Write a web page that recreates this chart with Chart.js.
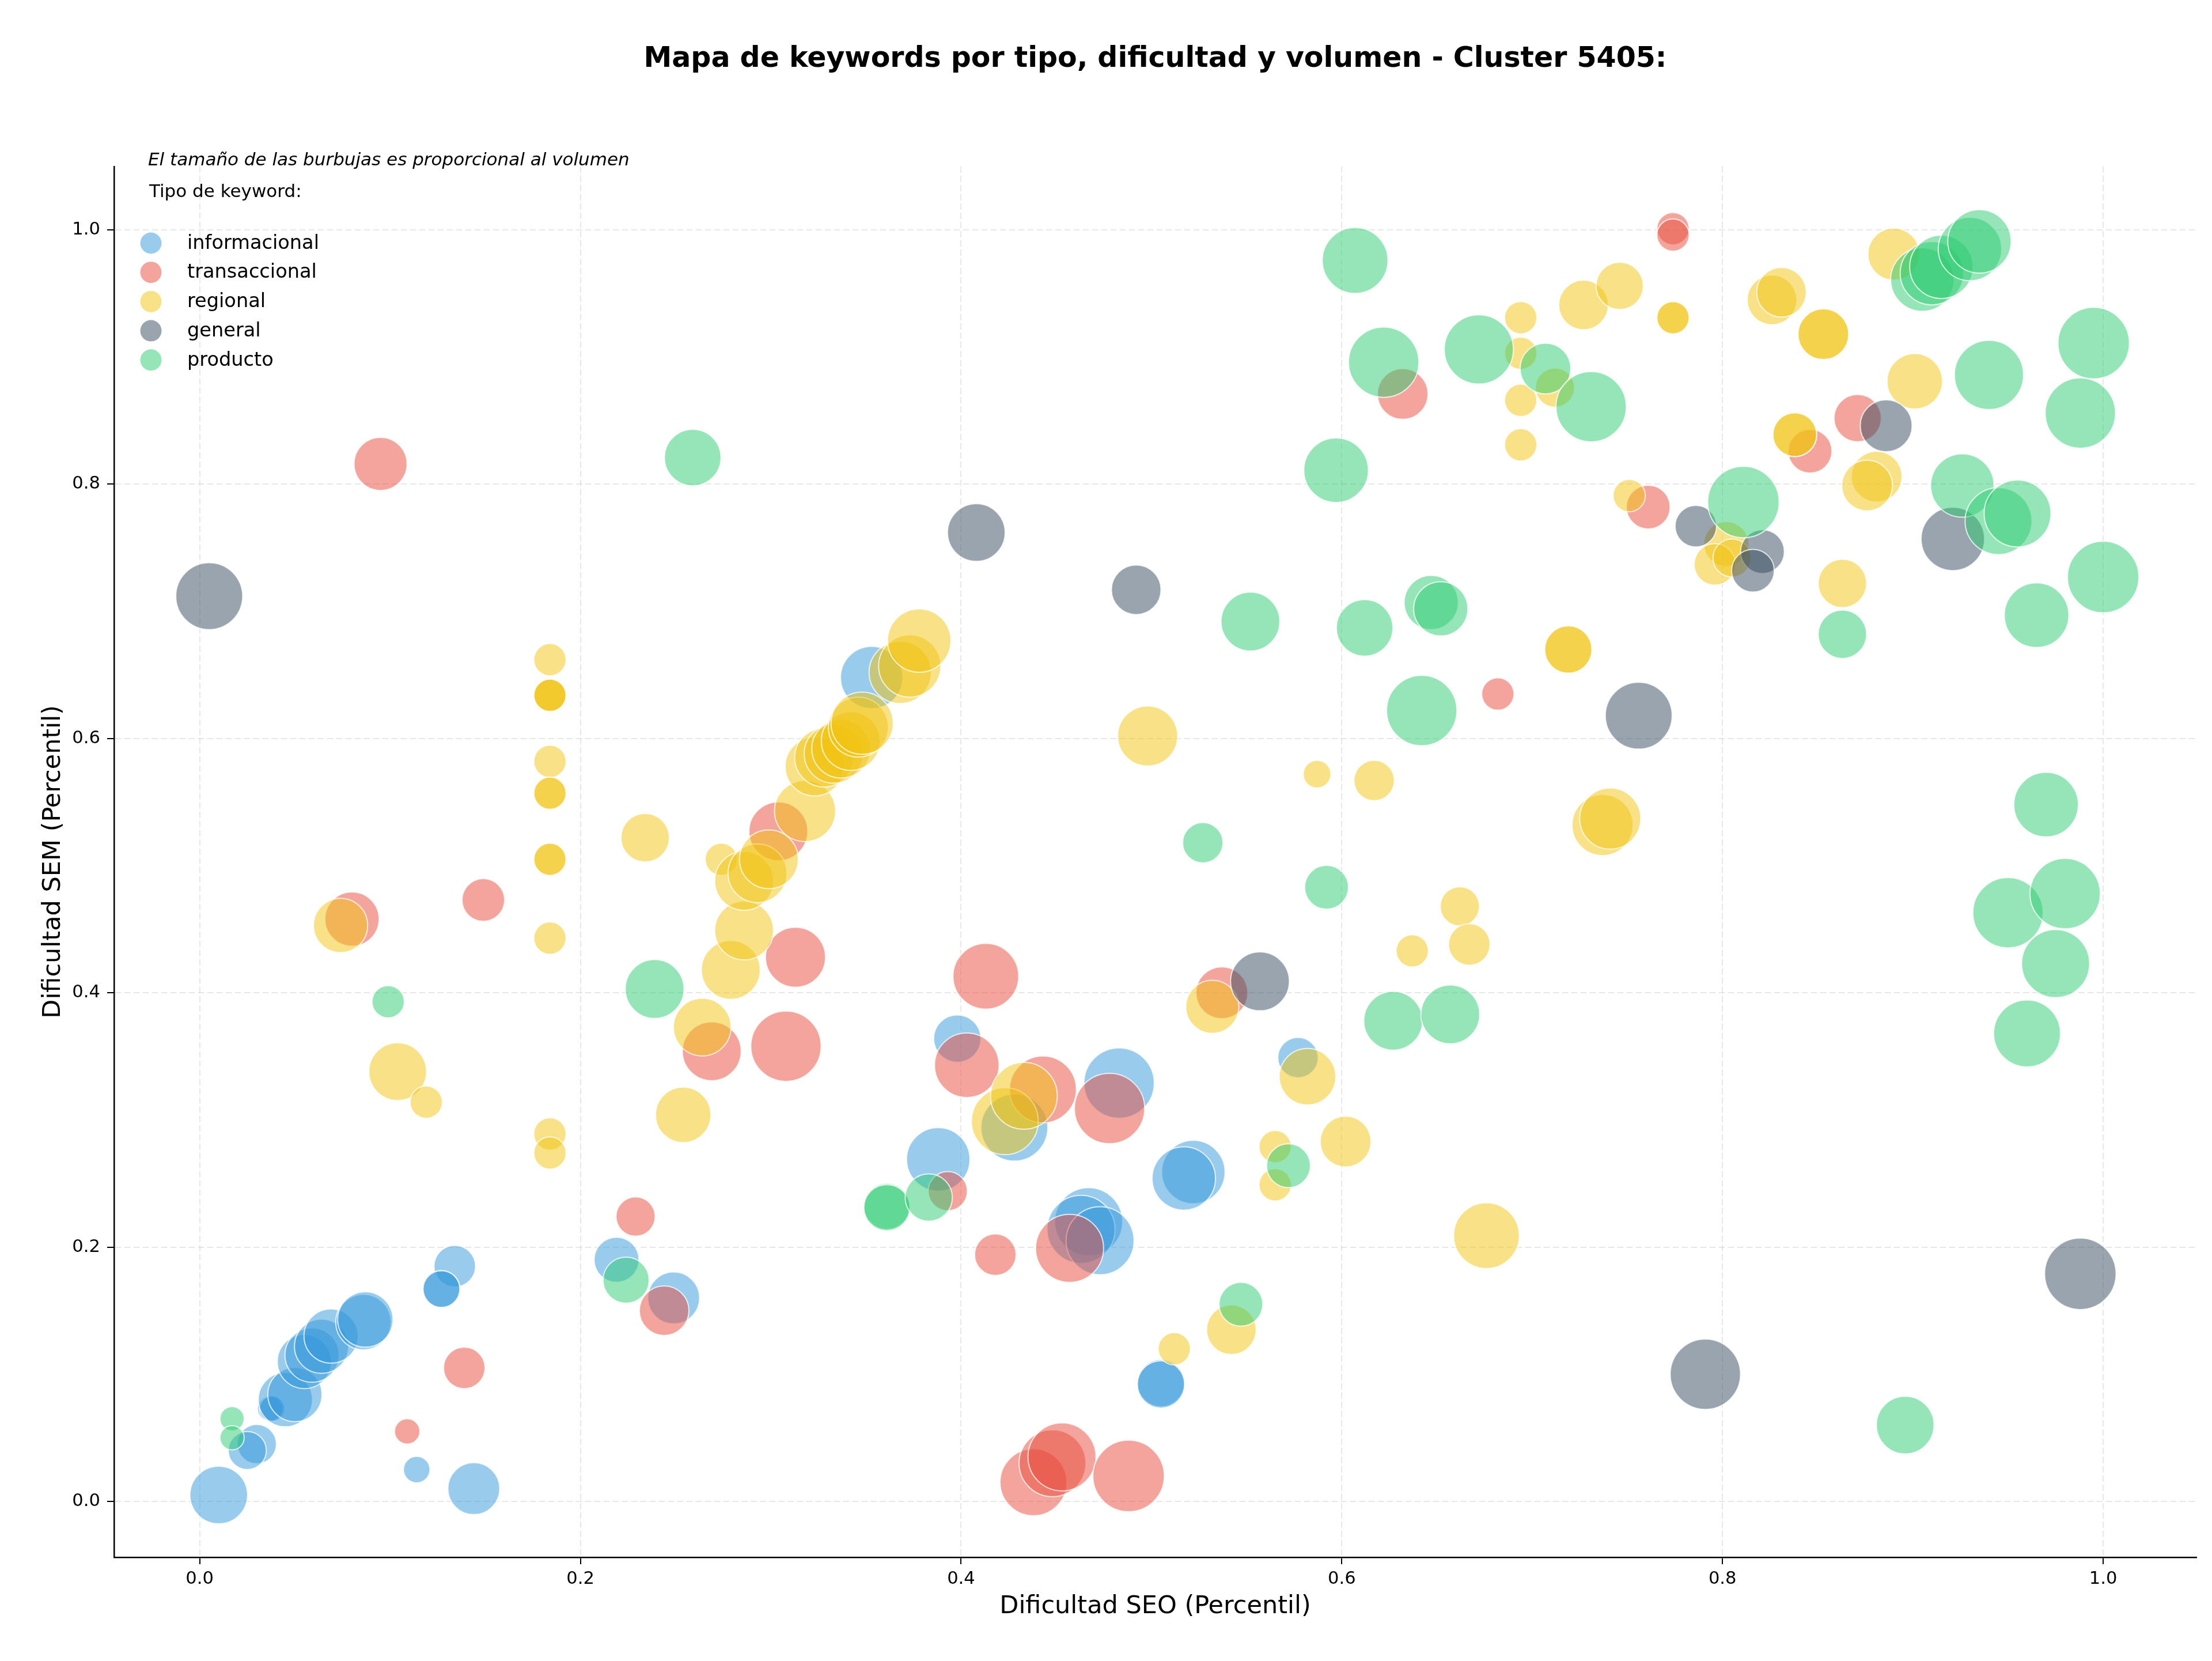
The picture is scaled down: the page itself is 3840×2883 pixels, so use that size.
<!DOCTYPE html>
<html>
<head>
<meta charset="utf-8">
<script src="https://cdn.jsdelivr.net/npm/chart.js@4/dist/chart.umd.min.js"></script>
<style>
  html, body { margin: 0; padding: 0; background: #fff; }
  canvas { display: block; }
</style>
</head>
<body>
<canvas id="mapa" width="3840" height="2883" style="width:3840px;height:2883px"></canvas>
<script>
// keyword map: SEO difficulty (x), SEM difficulty (y), volume (bubble size)

const tipos = ['informacional', 'transaccional', 'regional', 'general', 'producto'];
const colores = ['52,152,219', '231,76,60', '241,196,15', '52,73,94', '46,204,113'];

const infoSEO = [0.010, 0.030, 0.025, 0.037, 0.038, 0.045, 0.050, 0.055, 0.059, 0.064, 0.069, 0.086, 0.087, 0.114, 0.144, 0.134, 0.127, 0.127, 0.219, 0.249, 0.353, 0.398, 0.388, 0.428, 0.483, 0.522, 0.517, 0.467, 0.463, 0.473, 0.505, 0.505, 0.577];
const infoSEM = [0.005, 0.045, 0.040, 0.073, 0.073, 0.080, 0.084, 0.110, 0.115, 0.122, 0.130, 0.141, 0.143, 0.025, 0.010, 0.185, 0.167, 0.167, 0.190, 0.160, 0.648, 0.364, 0.269, 0.294, 0.329, 0.259, 0.254, 0.220, 0.214, 0.205, 0.093, 0.092, 0.349];
const infoVol = [650, 306, 289, 132, 132, 576, 576, 576, 576, 576, 576, 600, 600, 144, 529, 342, 272, 272, 400, 529, 756, 441, 784, 870, 961, 784, 784, 900, 900, 900, 441, 441, 324];

const transSEO = [0.095, 0.080, 0.149, 0.109, 0.139, 0.229, 0.244, 0.269, 0.308, 0.313, 0.304, 0.413, 0.403, 0.393, 0.418, 0.443, 0.478, 0.457, 0.438, 0.448, 0.453, 0.488, 0.537, 0.632, 0.682, 0.774, 0.774, 0.761, 0.871, 0.846];
const transSEM = [0.816, 0.458, 0.473, 0.055, 0.105, 0.224, 0.150, 0.354, 0.358, 0.428, 0.527, 0.413, 0.343, 0.244, 0.194, 0.324, 0.309, 0.199, 0.015, 0.030, 0.035, 0.020, 0.400, 0.871, 0.635, 1.001, 0.996, 0.782, 0.852, 0.826];
const transVol = [552, 576, 361, 132, 342, 306, 484, 676, 961, 702, 676, 841, 812, 306, 342, 870, 961, 900, 870, 870, 900, 992, 529, 506, 210, 210, 210, 380, 441, 380];

const regSEO = [0.184, 0.184, 0.184, 0.184, 0.184, 0.184, 0.184, 0.184, 0.184, 0.184, 0.184, 0.184,
  0.074, 0.104, 0.119, 0.234, 0.264, 0.254, 0.279, 0.286, 0.274, 0.286, 0.293, 0.299, 0.318, 0.323, 0.328, 0.333, 0.337, 0.342, 0.346, 0.348, 0.368, 0.373, 0.378,
  0.423, 0.433, 0.498, 0.532, 0.512, 0.542, 0.565, 0.565, 0.582, 0.602, 0.587, 0.617, 0.637, 0.662, 0.667, 0.676,
  0.694, 0.694, 0.694, 0.694, 0.712, 0.727, 0.746, 0.774, 0.774, 0.719, 0.719, 0.737, 0.741, 0.751, 0.802, 0.796, 0.805,
  0.826, 0.831, 0.853, 0.853, 0.890, 0.901, 0.838, 0.838, 0.881, 0.876, 0.863];
const regSEM = [0.662, 0.634, 0.634, 0.634, 0.582, 0.557, 0.557, 0.505, 0.505, 0.443, 0.289, 0.274,
  0.453, 0.338, 0.314, 0.522, 0.373, 0.304, 0.418, 0.449, 0.505, 0.488, 0.494, 0.505, 0.543, 0.578, 0.585, 0.588, 0.592, 0.598, 0.609, 0.612, 0.652, 0.657, 0.677,
  0.299, 0.319, 0.602, 0.389, 0.120, 0.135, 0.279, 0.249, 0.334, 0.283, 0.572, 0.567, 0.433, 0.468, 0.438, 0.209,
  0.931, 0.903, 0.866, 0.831, 0.876, 0.941, 0.956, 0.931, 0.931, 0.670, 0.670, 0.532, 0.537, 0.791, 0.753, 0.737, 0.742,
  0.945, 0.951, 0.918, 0.918, 0.981, 0.881, 0.839, 0.839, 0.806, 0.799, 0.722];
const regVol = [210, 210, 210, 210, 210, 210, 210, 210, 210, 210, 210, 210,
  576, 650, 210, 462, 650, 600, 676, 676, 210, 676, 676, 676, 729, 676, 676, 676, 676, 676, 702, 756, 756, 756, 784,
  870, 870, 702, 552, 210, 484, 210, 210, 625, 506, 156, 324, 210, 306, 342, 841,
  210, 210, 210, 210, 306, 484, 441, 210, 210, 441, 441, 729, 729, 210, 400, 342, 289,
  484, 484, 506, 506, 529, 600, 380, 380, 506, 506, 462];

const genSEO = [0.005, 0.408, 0.492, 0.557, 0.756, 0.786, 0.821, 0.816, 0.886, 0.921, 0.988, 0.791];
const genSEM = [0.712, 0.762, 0.717, 0.409, 0.618, 0.767, 0.747, 0.732, 0.846, 0.757, 0.179, 0.100];
const genVol = [870, 650, 484, 676, 870, 342, 380, 361, 529, 784, 992, 961];

const prodSEO = [0.017, 0.017, 0.099, 0.224, 0.239, 0.259, 0.361, 0.361, 0.383, 0.527, 0.552, 0.547, 0.572, 0.592, 0.597, 0.607, 0.622, 0.672, 0.612, 0.647,
  0.652, 0.642, 0.627, 0.657, 0.707, 0.731, 0.811, 0.863, 0.905, 0.910, 0.915, 0.930, 0.935, 0.940, 0.995, 0.988, 0.926, 0.945, 0.955, 1.000,
  0.965, 0.970, 0.950, 0.980, 0.975, 0.960, 0.896];
const prodSEM = [0.065, 0.050, 0.393, 0.174, 0.403, 0.821, 0.232, 0.231, 0.239, 0.518, 0.692, 0.155, 0.264, 0.483, 0.811, 0.976, 0.896, 0.906, 0.687, 0.707,
  0.702, 0.622, 0.378, 0.383, 0.891, 0.861, 0.786, 0.682, 0.961, 0.966, 0.971, 0.985, 0.991, 0.886, 0.911, 0.856, 0.799, 0.771, 0.777, 0.727,
  0.697, 0.548, 0.463, 0.478, 0.423, 0.368, 0.060];
const prodVol = [121, 121, 210, 420, 676, 625, 420, 420, 441, 324, 676, 380, 380, 380, 812, 841, 961, 930, 625, 576,
  576, 961, 676, 676, 506, 961, 992, 462, 784, 784, 784, 784, 784, 930, 992, 961, 784, 870, 870, 992,
  812, 812, 961, 961, 900, 870, 650];

const xTicks = [0, 0.2, 0.4, 0.6, 0.8, 1.0];
const yTicks = [0, 0.2, 0.4, 0.6, 0.8, 1.0];

const series = [
  [infoSEO, infoSEM, infoVol],
  [transSEO, transSEM, transVol],
  [regSEO, regSEM, regVol],
  [genSEO, genSEM, genVol],
  [prodSEO, prodSEM, prodVol]
];

const FONT = '"DejaVu Sans", "Liberation Sans", sans-serif';
const titulo = 'Mapa de keywords por tipo, dificultad y volumen - Cluster 5405:';
const nota = 'El tamaño de las burbujas es proporcional al volumen';

const datasets = series.map(([xs, ys, vs], i) => ({
  label: tipos[i],
  data: xs.map((x, j) => ({ x: x, y: ys[j], r: Math.sqrt(vs[j]) * 2 - 1 })),
  backgroundColor: 'rgba(' + colores[i] + ',0.5)',
  borderColor: 'rgba(255,255,255,0.75)',
  borderWidth: 2,
  hoverRadius: 0,
  order: tipos.length - i
}));

// legend drawn by hand, matplotlib-style inside the axes
const leyenda = {
  id: 'leyenda',
  afterDraw(chart) {
    const c = chart.ctx;
    c.save();
    c.textBaseline = 'middle';
    c.textAlign = 'left';
    c.fillStyle = '#000';
    c.font = 'italic 31px ' + FONT;
    c.fillText(nota, 257, 279);
    c.font = '31px ' + FONT;
    c.fillText('Tipo de keyword:', 259, 334);
    tipos.forEach((t, i) => {
      const y = 422 + i * 50.7;
      c.beginPath();
      c.arc(262, y, 18.5, 0, Math.PI * 2);
      c.fillStyle = 'rgba(' + colores[i] + ',0.5)';
      c.fill();
      c.fillStyle = '#000';
      c.font = '33.6px ' + FONT;
      c.fillText(t, 325, y + 1);
    });
    c.restore();
  }
};

const gridColor = 'rgba(190,190,190,0.35)';

new Chart(document.getElementById('mapa').getContext('2d'), {
  type: 'bubble',
  data: { datasets },
  options: {
    responsive: false,
    animation: false,
    devicePixelRatio: 1,
    layout: { autoPadding: false, padding: { left: 0, right: 27, top: 0, bottom: 0 } },
    plugins: {
      legend: { display: false },
      tooltip: { enabled: false },
      title: {
        display: true,
        text: titulo,
        fullSize: false,
        color: '#000',
        font: { family: FONT, size: 49, weight: 'bold' },
        padding: { top: 74, bottom: 156 }
      }
    },
    scales: {
      x: {
        type: 'linear',
        min: -0.045,
        max: 1.049,
        afterFit: s => { s.height = 180; s.paddingLeft = 0; s.paddingRight = 0; },
        afterBuildTicks: s => { s.ticks = xTicks.map(v => ({ value: v })); },
        ticks: {
          callback: v => v.toFixed(1),
          color: '#000',
          font: { family: FONT, size: 30.6 },
          padding: 8,
          maxRotation: 0,
          autoSkip: false
        },
        grid: { color: gridColor, lineWidth: 2, tickColor: '#000', tickLength: 12, tickWidth: 2 },
        border: { display: true, color: '#000', width: 2.5, dash: [11, 5] },
        title: {
          display: true,
          text: 'Dificultad SEO (Percentil)',
          color: '#000',
          font: { family: FONT, size: 43 },
          padding: { top: 0, bottom: 68 }
        }
      },
      y: {
        type: 'linear',
        min: -0.044,
        max: 1.05,
        afterFit: s => { s.width = 198; s.paddingTop = 0; s.paddingBottom = 0; },
        afterBuildTicks: s => { s.ticks = yTicks.map(v => ({ value: v })); },
        ticks: {
          callback: v => v.toFixed(1),
          color: '#000',
          font: { family: FONT, size: 30.6 },
          padding: 12,
          autoSkip: false
        },
        grid: { color: gridColor, lineWidth: 2, tickColor: '#000', tickLength: 12, tickWidth: 2 },
        border: { display: true, color: '#000', width: 2.5, dash: [11, 5] },
        title: {
          display: true,
          text: 'Dificultad SEM (Percentil)',
          color: '#000',
          font: { family: FONT, size: 43 },
          padding: { top: 67, bottom: 0 }
        }
      }
    }
  },
  plugins: [leyenda]
});
</script>
</body>
</html>
